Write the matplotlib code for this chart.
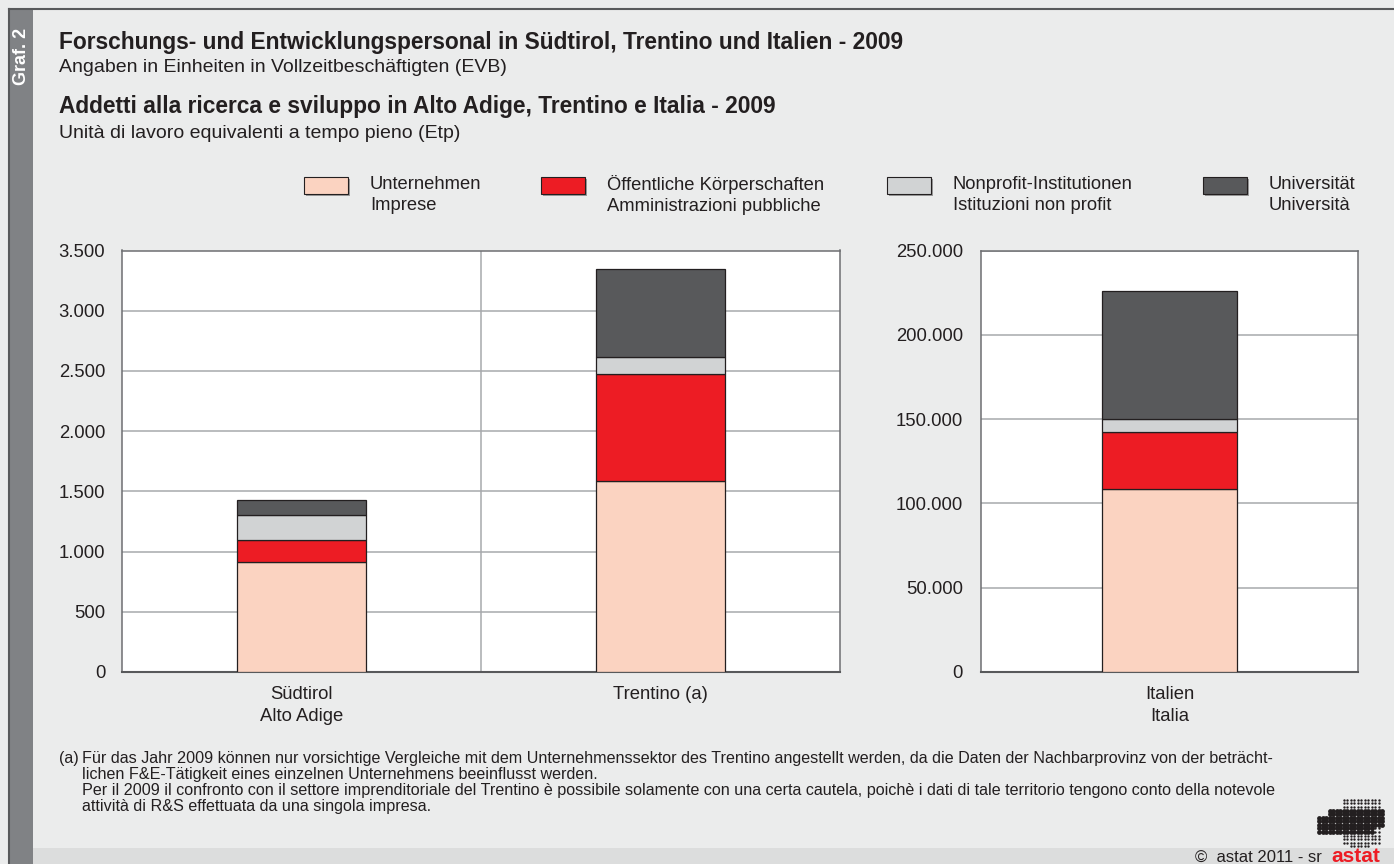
import numpy as np
import matplotlib.pyplot as plt
from matplotlib.patches import Rectangle
from matplotlib.ticker import FuncFormatter

# ---------------- data ----------------
regions_left = ['Südtirol\nAlto Adige', 'Trentino (a)']
regions_right = ['Italien\nItalia']

series = ['Unternehmen\nImprese',
          'Öffentliche Körperschaften\nAmministrazioni pubbliche',
          'Nonprofit-Institutionen\nIstituzioni non profit',
          'Universität\nUniversità']

unternehmen_left = [912, 1590]
oeffentliche_left = [185, 887]
nonprofit_left = [208, 138]
universitaet_left = [124, 733]

unternehmen_it = [108500]
oeffentliche_it = [34000]
nonprofit_it = [7800]
universitaet_it = [75700]

left_ticks = [0, 500, 1000, 1500, 2000, 2500, 3000, 3500]
right_ticks = [0, 50000, 100000, 150000, 200000, 250000]

colors = ['#fbd3c1', '#ed1c24', '#d1d3d4', '#58595b']
# --------------------------------------

W, H = 1394, 864
BG = '#ebecec'
TXT = '#231f20'
plt.rcParams['font.family'] = ['Liberation Sans', 'DejaVu Sans']

fig = plt.figure(figsize=(W / 100, H / 100), dpi=100)
fig.patch.set_facecolor(BG)


def fx(x):
    return x / W


def fy(y):
    return 1 - y / H


# frame decorations
fig.add_artist(Rectangle((fx(33), 0), 1, fy(848), transform=fig.transFigure,
                         facecolor='#dcdddd', edgecolor='none', zorder=0))
fig.add_artist(Rectangle((fx(10), 0), fx(23), fy(9), transform=fig.transFigure,
                         facecolor='#808285', edgecolor='none', zorder=1))
fig.add_artist(plt.Line2D([fx(9), 1], [fy(9), fy(9)], transform=fig.transFigure,
                          color='#58595b', lw=1.5))
fig.add_artist(plt.Line2D([fx(9), fx(9)], [0, fy(9)], transform=fig.transFigure,
                          color='#58595b', lw=1.5))
fig.text(fx(22), fy(56), 'Graf. 2', rotation=90, color='white', fontsize=13,
         fontweight='bold', ha='center', va='center')

# titles
fig.text(fx(59), fy(43), 'Forschungs- und Entwicklungspersonal in Südtirol, Trentino und Italien - 2009',
         fontsize=16.4, fontweight='bold', color=TXT, va='center')
fig.text(fx(59), fy(67), 'Angaben in Einheiten in Vollzeitbeschäftigten (EVB)',
         fontsize=14, color=TXT, va='center')
fig.text(fx(59), fy(106), 'Addetti alla ricerca e sviluppo in Alto Adige, Trentino e Italia - 2009',
         fontsize=16.4, fontweight='bold', color=TXT, va='center')
fig.text(fx(59), fy(133), 'Unità di lavoro equivalenti a tempo pieno (Etp)',
         fontsize=14, color=TXT, va='center')

# legend drawn by hand
leg_x = [304, 541, 887, 1203]
for lx, lab, c in zip(leg_x, series, colors):
    fig.add_artist(Rectangle((fx(lx + 2), fy(196)), fx(44), 17 / H, transform=fig.transFigure,
                             facecolor='#9a9a9a', edgecolor='none'))
    fig.add_artist(Rectangle((fx(lx), fy(194)), fx(44), 17 / H, transform=fig.transFigure,
                             facecolor=c, edgecolor=TXT, lw=0.8))
    fig.text(fx(lx + 66), fy(195), lab, fontsize=13.2, color=TXT, va='center',
             linespacing=1.3)

grid_c = '#a7a9ac'
spine_c = '#6d6e71'


def style(ax, ticks, pad):
    ax.set_facecolor('white')
    ax.set_yticks(ticks)
    ax.yaxis.set_major_formatter(FuncFormatter(lambda v, p: f'{int(v):,}'.replace(',', '.')))
    ax.tick_params(axis='both', length=0, labelsize=13.3, colors=TXT)
    ax.tick_params(axis='y', pad=pad)
    ax.tick_params(axis='x', pad=10)
    ax.grid(axis='y', color=grid_c, lw=1.1)
    ax.set_axisbelow(True)
    for s in ax.spines.values():
        s.set_color(spine_c)
        s.set_linewidth(1.1)
    ax.spines['bottom'].set_color('#58595b')
    ax.spines['bottom'].set_linewidth(1.5)
    ax.set_ylim(ticks[0], ticks[-1])


def stack(ax, n, parts):
    x = np.arange(n)
    bottom = np.zeros(n)
    for vals, c in zip(parts, colors):
        ax.bar(x, vals, 0.36, bottom=bottom, color=c, edgecolor=TXT, lw=0.9, zorder=3)
        bottom += np.array(vals)


ax1 = fig.add_axes([fx(122), fy(672), 718 / W, 421.5 / H])
stack(ax1, 2, [unternehmen_left, oeffentliche_left, nonprofit_left, universitaet_left])
style(ax1, left_ticks, 12)
ax1.set_xlim(-0.5, 1.5)
ax1.set_xticks([0, 1])
ax1.set_xticklabels(regions_left, linespacing=1.4, va='top')
ax1.axvline(0.5, color=grid_c, lw=1.1, zorder=1)

ax2 = fig.add_axes([fx(981), fy(672), 377 / W, 421.5 / H])
stack(ax2, 1, [unternehmen_it, oeffentliche_it, nonprofit_it, universitaet_it])
style(ax2, right_ticks, 13)
ax2.set_xlim(-0.5, 0.5)
ax2.set_xticks([0])
ax2.set_xticklabels(regions_right, linespacing=1.4, va='top')

# footnote
fn_font = dict(fontsize=11.6, color=TXT, va='center')
fig.text(fx(59), fy(759), '(a)', **fn_font)
notes = ['Für das Jahr 2009 können nur vorsichtige Vergleiche mit dem Unternehmenssektor des Trentino angestellt werden, da die Daten der Nachbarprovinz von der beträcht-',
         'lichen F&E-Tätigkeit eines einzelnen Unternehmens beeinflusst werden.',
         'Per il 2009 il confronto con il settore imprenditoriale del Trentino è possibile solamente con una certa cautela, poichè i dati di tale territorio tengono conto della notevole',
         'attività di R&S effettuata da una singola impresa.']
for i, line in enumerate(notes):
    fig.text(fx(82), fy(759 + 16 * i), line, **fn_font)

fig.text(fx(1322), fy(857), '©  astat 2011 - sr', fontsize=12, color=TXT,
         ha='right', va='center')
fig.text(fx(1356), fy(857), 'astat', fontsize=15, color='#ed1c24', fontweight='bold',
         ha='center', va='center')

# small dotted logo (decoration)
lax = fig.add_axes([fx(1314), fy(848), 70 / W, 50 / H])
lax.set_axis_off()
gx, gy = np.meshgrid(np.arange(0, 20), np.arange(0, 14))
gx = gx.ravel()
gy = gy.ravel()
dots = ((gx >= 8) & (gx <= 18) & (gy >= 1)) | ((gx >= 10) & (gx <= 15) & (gy == 0))
blob = (gy >= 4) & (gy <= 10) & (gx >= 1) & (gx <= 19) & ~((gx <= 3) & (gy >= 9)) & ~((gx >= 17) & (gy <= 5))
lax.scatter(gx[dots & ~blob], gy[dots & ~blob], s=3, color=TXT, lw=0)
lax.scatter(gx[blob], gy[blob], s=12, color=TXT, lw=0)
lax.set_xlim(-0.5, 19.5)
lax.set_ylim(-0.5, 13.5)

fig.savefig('out.png', dpi=100, facecolor=BG)
